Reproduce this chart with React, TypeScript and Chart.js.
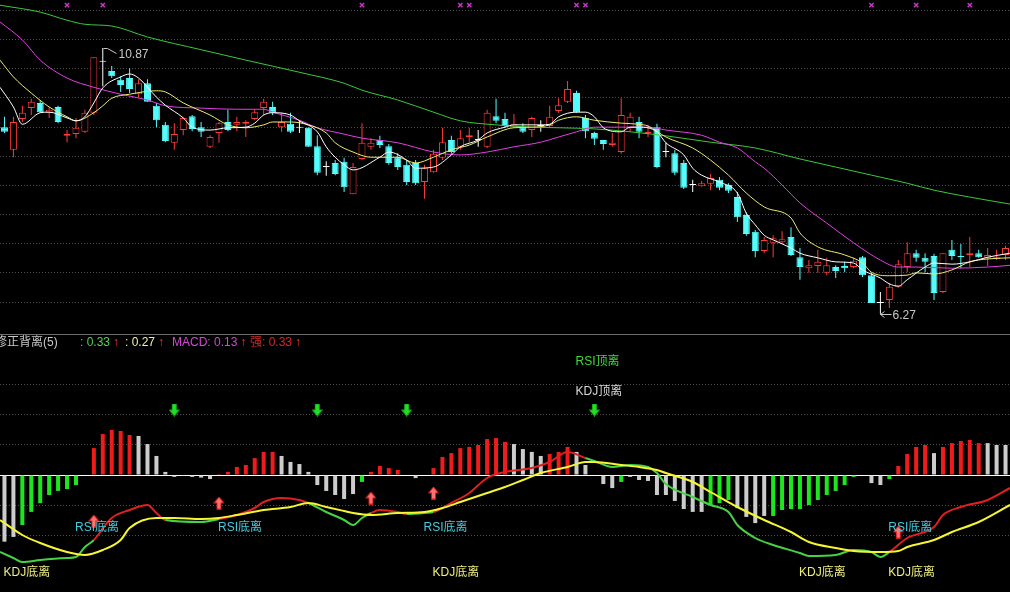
import React, { useEffect, useRef } from "react";
import { Chart, registerables } from "chart.js";

Chart.register(...registerables);

const W = 1010;
const TOP_H = 334;
const BOT_H = 258;

// ---------- price panel data ----------
const openP = [9.50, 9.11, 9.64, 9.83, 9.92, 9.75, 9.85, 9.35, 9.38, 9.42,
  9.75, 10.63, 10.47, 10.32, 10.35, 10.07, 10.26, 9.87, 9.54, 9.23,
  9.45, 9.69, 9.50, 9.16, 9.40, 9.59, 9.54, 9.56, 9.64, 9.83,
  9.85, 9.50, 9.56, 9.49, 9.49, 9.17, 8.81, 8.88, 8.90, 8.34,
  8.95, 9.16, 9.28, 9.17, 8.98, 8.85, 8.88, 8.55, 8.72, 8.97,
  9.28, 9.16, 9.33, 9.28, 9.16, 9.69, 9.64, 9.50, 9.50, 9.45,
  9.52, 9.52, 9.78, 9.94, 10.09, 9.66, 9.40, 9.28, 9.19, 9.07,
  9.49, 9.59, 9.40, 9.50, 9.07, 9.05, 8.88, 8.50, 8.48, 8.52,
  8.59, 8.50, 8.29, 7.98, 7.69, 7.36, 7.50, 7.51, 7.60, 7.25,
  7.06, 7.10, 6.98, 7.08, 7.10, 7.08, 7.25, 6.94, 6.46, 6.51,
  6.74, 7.08, 7.32, 7.24, 7.27, 6.65, 7.38, 7.27, 7.29, 7.32,
  7.24, 7.22, 7.29];
const highP = [9.68, 9.68, 9.87, 9.99, 9.97, 9.85, 9.87, 9.45, 9.66, 9.80,
  10.71, 10.87, 10.56, 10.38, 10.52, 10.33, 10.33, 9.92, 9.59, 9.57,
  9.68, 9.71, 9.59, 9.36, 9.59, 9.80, 9.68, 9.62, 9.80, 9.99,
  9.94, 9.75, 9.75, 9.62, 9.50, 9.36, 8.91, 8.93, 8.97, 8.88,
  9.57, 9.31, 9.35, 9.21, 9.05, 8.93, 8.93, 8.85, 9.11, 9.49,
  9.35, 9.45, 9.49, 9.45, 9.80, 9.99, 9.75, 9.73, 9.57, 9.68,
  9.62, 9.87, 10.00, 10.30, 10.13, 9.71, 9.42, 9.28, 9.40, 10.00,
  9.75, 9.68, 9.54, 9.56, 9.23, 9.11, 8.93, 8.59, 8.57, 8.69,
  8.64, 8.53, 8.38, 8.03, 7.72, 7.60, 7.63, 7.70, 7.77, 7.41,
  7.20, 7.38, 7.24, 7.11, 7.17, 7.24, 7.27, 6.98, 6.65, 6.80,
  7.20, 7.51, 7.38, 7.32, 7.31, 7.32, 7.55, 7.48, 7.60, 7.38,
  7.41, 7.38, 7.45];
const lowP = [9.40, 8.98, 9.59, 9.71, 9.75, 9.66, 9.57, 9.24, 9.31, 9.40,
  9.71, 10.21, 10.35, 10.11, 10.09, 10.02, 9.94, 9.50, 9.24, 9.11,
  9.36, 9.43, 9.33, 9.14, 9.23, 9.43, 9.43, 9.33, 9.62, 9.71,
  9.71, 9.42, 9.40, 9.40, 9.16, 8.67, 8.66, 8.67, 8.38, 8.34,
  8.93, 9.11, 9.14, 8.85, 8.76, 8.50, 8.50, 8.26, 8.71, 8.93,
  9.04, 9.11, 9.24, 9.16, 9.14, 9.57, 9.49, 9.49, 9.40, 9.33,
  9.42, 9.49, 9.75, 9.92, 9.75, 9.31, 9.19, 9.11, 9.16, 9.04,
  9.42, 9.31, 9.33, 8.79, 8.98, 8.67, 8.43, 8.38, 8.47, 8.41,
  8.41, 8.36, 7.86, 7.62, 7.25, 7.32, 7.25, 7.48, 7.27, 6.86,
  6.98, 6.98, 6.94, 6.89, 6.99, 7.06, 6.91, 6.46, 6.27, 6.37,
  6.72, 6.99, 7.17, 6.99, 6.51, 6.63, 7.20, 7.06, 7.08, 7.24,
  7.10, 7.20, 7.20];
const closeP = [9.42, 9.59, 9.75, 9.94, 9.76, 9.80, 9.59, 9.38, 9.49, 9.75,
  10.71, 10.63, 10.38, 10.23, 10.16, 10.26, 9.94, 9.62, 9.26, 9.38,
  9.66, 9.47, 9.42, 9.33, 9.57, 9.45, 9.59, 9.59, 9.76, 9.94,
  9.75, 9.59, 9.42, 9.49, 9.16, 8.71, 8.81, 8.69, 8.46, 8.81,
  9.23, 9.23, 9.19, 8.88, 8.81, 8.55, 8.53, 8.79, 9.04, 9.24,
  9.07, 9.31, 9.36, 9.28, 9.75, 9.61, 9.52, 9.56, 9.42, 9.66,
  9.52, 9.68, 9.88, 10.16, 9.76, 9.43, 9.30, 9.21, 9.23, 9.71,
  9.68, 9.42, 9.42, 8.81, 9.07, 8.71, 8.45, 8.50, 8.53, 8.62,
  8.45, 8.40, 7.94, 7.65, 7.36, 7.55, 7.58, 7.56, 7.29, 7.08,
  7.11, 7.17, 7.11, 7.01, 7.06, 7.19, 6.94, 6.46, 6.46, 6.74,
  7.13, 7.32, 7.24, 7.17, 6.63, 7.32, 7.27, 7.25, 7.32, 7.25,
  7.29, 7.25, 7.41];

// moving-average lines (candle index, price)
const ma5X = [-0.5, 1, 2, 4, 5, 7, 8, 9, 10, 11, 13, 14, 15, 17, 18, 20, 21, 23, 25, 27, 28, 29, 30, 32, 33, 35, 36, 37, 38, 39, 42, 43, 45, 46, 48, 50, 51, 53, 54, 56, 57, 60, 61, 62, 64, 65, 66, 67, 69, 70, 71, 73, 74, 76, 77, 78, 80, 82, 83, 84, 85, 86, 88, 89, 91, 93, 95, 96, 98, 99, 100, 101, 103, 104, 106, 108, 110, 112.5];
const ma5 = [10.19, 9.85, 9.55, 9.75, 9.76, 9.66, 9.61, 9.68, 9.92, 10.18, 10.37, 10.42, 10.35, 10.02, 9.88, 9.66, 9.50, 9.45, 9.49, 9.50, 9.57, 9.71, 9.75, 9.71, 9.61, 9.42, 9.16, 8.98, 8.85, 8.76, 8.98, 9.07, 8.93, 8.79, 8.81, 9.02, 9.16, 9.28, 9.40, 9.50, 9.54, 9.54, 9.55, 9.68, 9.76, 9.76, 9.68, 9.49, 9.42, 9.50, 9.50, 9.42, 9.23, 9.02, 8.79, 8.67, 8.55, 8.36, 8.01, 7.81, 7.63, 7.55, 7.41, 7.32, 7.24, 7.17, 7.15, 7.03, 6.89, 6.79, 6.75, 6.86, 7.08, 7.15, 7.13, 7.17, 7.25, 7.32];
const ma10X = [-0.5, 1, 3, 5, 7, 8, 10, 11, 12, 14, 17, 18, 20, 23, 25, 27, 29, 30, 32, 34, 36, 37, 39, 41, 44, 46, 48, 50, 52, 54, 57, 59, 61, 62, 64, 66, 69, 71, 72, 74, 77, 79, 81, 83, 85, 88, 89, 91, 94, 96, 97, 99, 101, 102, 104, 106, 108, 110, 112.5];
const ma10 = [10.66, 10.37, 10.09, 9.85, 9.68, 9.61, 9.75, 9.87, 10.00, 10.07, 10.13, 10.11, 9.92, 9.71, 9.54, 9.49, 9.54, 9.59, 9.59, 9.54, 9.40, 9.23, 9.07, 8.98, 8.98, 8.88, 8.98, 9.11, 9.19, 9.33, 9.49, 9.50, 9.54, 9.62, 9.68, 9.62, 9.57, 9.55, 9.52, 9.33, 9.14, 8.93, 8.67, 8.36, 8.12, 7.93, 7.67, 7.43, 7.29, 7.15, 6.99, 6.93, 6.94, 6.98, 6.96, 7.03, 7.17, 7.22, 7.24];
const ma30X = [-0.5, 2, 4, 7, 10, 13, 16, 18, 22, 26, 29, 30, 33, 35, 38, 40, 44, 48, 51, 54, 57, 60, 62, 64, 66, 69, 72, 74, 78, 80, 82, 84, 85, 87, 89, 92, 95, 98, 100, 102, 106, 110, 112.5];
const ma30 = [11.32, 11.01, 10.66, 10.35, 10.19, 10.07, 9.97, 9.87, 9.83, 9.81, 9.81, 9.76, 9.62, 9.49, 9.38, 9.31, 9.23, 9.07, 9.02, 9.07, 9.16, 9.24, 9.33, 9.42, 9.50, 9.50, 9.50, 9.45, 9.36, 9.24, 9.14, 8.90, 8.79, 8.50, 8.19, 7.84, 7.50, 7.20, 7.08, 7.08, 7.06, 7.08, 7.11];
const ma60X = [-0.5, 4, 7, 9, 12, 16, 22, 27, 33, 38, 40, 44, 48, 51, 55, 59, 62, 66, 70, 74, 79, 84, 89, 93, 97, 101, 104, 108, 112.5];
const ma60 = [11.61, 11.49, 11.35, 11.28, 11.25, 11.06, 10.84, 10.66, 10.45, 10.26, 10.14, 9.97, 9.76, 9.61, 9.54, 9.50, 9.49, 9.47, 9.42, 9.35, 9.24, 9.14, 8.95, 8.81, 8.67, 8.53, 8.41, 8.29, 8.17];

const priceGrid = [11.52, 11.02, 10.51, 10.01, 9.50, 9.00, 8.49, 7.99, 7.48, 6.98, 6.47];
const PRICE_MAX = 11.70;
const PRICE_MIN = 5.922;
const markIdx = [7, 11, 40, 51, 52, 64, 65, 97, 102, 108];
const MARK_LEVEL = 11.61;

// ---------- indicator panel data ----------
const macd = [-0.28, -0.26, -0.21, -0.155, -0.118, -0.084, -0.067, -0.059, -0.042, 0,
  0.113, 0.172, 0.189, 0.185, 0.168, 0.164, 0.130, 0.080, 0.013, -0.008,
  -0.004, -0.008, -0.011, -0.017, 0.004, 0.013, 0.034, 0.042, 0.071, 0.097,
  0.097, 0.080, 0.055, 0.046, 0.013, -0.042, -0.067, -0.084, -0.101, -0.080,
  -0.029, 0.013, 0.038, 0.029, 0.021, 0, -0.013, 0, 0.029, 0.076,
  0.092, 0.113, 0.118, 0.126, 0.151, 0.155, 0.139, 0.130, 0.109, 0.097,
  0.080, 0.088, 0.097, 0.118, 0.097, 0.042, 0, -0.038, -0.055, -0.029,
  -0.008, -0.021, -0.025, -0.084, -0.084, -0.109, -0.143, -0.155, -0.155, -0.126,
  -0.118, -0.105, -0.139, -0.176, -0.202, -0.172, -0.172, -0.147, -0.143, -0.143,
  -0.126, -0.105, -0.084, -0.067, -0.042, -0.008, 0, -0.034, -0.042, -0.017,
  0.038, 0.088, 0.118, 0.126, 0.092, 0.118, 0.134, 0.143, 0.147, 0.134,
  0.134, 0.126, 0.126];
const macdColorCode = ("ww" + "ggggggg" + "w" + "rrrrr" + "wwwwwwwww" + "rrrrrrr" + "wwwwwwwww" + "g" + "rrrr" + "www" +
  "rrrrrrrrr" + "wwww" + "rrr" + "wwwww" + "g" + "wwwwwwwww" + "ggg" + "wwww" + "gggggggggg" + "www" + "g" + "rrrr" + "w" + "rrrrr" + "www").split("");
const macdGrid = [0.382, 0.255, 0.127, 0, -0.127, -0.255];
const MACD_MAX = 0.5922;
const MACD_MIN = -0.4914;
const L_MIN = 0;
const L_MAX = 103.2;

const swingX = [-0.5, 1, 2, 4, 7, 8, 9, 10, 12, 14, 16, 17, 18, 22, 24, 26, 28, 29, 31, 33, 34, 36, 38, 39, 40, 41, 42, 44, 45, 47, 48, 50, 52, 54, 56, 59, 61, 63, 65, 66, 68, 70, 72, 73, 74, 77, 79, 81, 82, 84, 86, 89, 90, 93, 95, 97, 98, 99, 101, 104, 105, 107, 110, 112.5];
const swing = [16.0, 13.6, 12.0, 12.8, 13.6, 14.0, 18.0, 20.8, 29.6, 32.8, 34.8, 31.6, 28.8, 28.0, 29.2, 30.8, 33.6, 36.0, 37.6, 36.8, 35.6, 32.0, 28.8, 26.8, 29.6, 31.6, 32.8, 32.0, 31.2, 31.6, 32.0, 35.6, 39.6, 45.6, 48.0, 49.6, 52.0, 56.0, 53.6, 52.4, 50.0, 50.8, 50.0, 47.6, 43.2, 38.0, 34.8, 32.0, 26.8, 21.6, 18.8, 15.6, 14.4, 14.8, 16.8, 16.0, 14.0, 16.0, 21.6, 26.0, 30.8, 34.0, 36.8, 41.6];
const swingColorCode = ("ggggggg" + "rrrrr" + "gg" + "rrrrrr" + "ggggg" + "rrr" + "gg" + "rrrrrrrr" + "ggggggggggggggggggg" + "rrrrrrr").split("");
const slowX = [-0.5, 2, 4, 7, 9, 11, 13, 14, 17, 19, 22, 24, 26, 29, 32, 34, 36, 38, 39, 41, 44, 47, 49, 51, 54, 56, 58, 60, 63, 65, 66, 69, 71, 73, 74, 77, 79, 82, 85, 88, 90, 93, 95, 98, 100, 101, 104, 106, 109, 112.5];
const slow = [28.8, 22.8, 19.6, 16.0, 14.8, 16.8, 20.8, 25.6, 29.6, 29.6, 29.2, 29.6, 30.8, 32.8, 34.0, 35.6, 34.0, 32.4, 31.6, 30.8, 31.6, 32.0, 33.6, 36.0, 39.6, 42.0, 44.8, 47.6, 50.0, 52.0, 52.0, 50.8, 50.0, 48.8, 47.6, 44.0, 40.0, 34.0, 28.8, 24.0, 20.0, 17.6, 16.4, 16.0, 16.4, 18.0, 20.8, 24.0, 28.0, 34.8];

const downArrowIdx = [19, 35, 45, 66];
const DOWN_LEVEL = 72.8;
const upArrowIdx = [10, 24, 41, 48, 100];
const upArrowLevel = [28.4, 35.6, 37.6, 39.6, 24.0];

const rsiBottomIdx = [8, 24, 47, 99];
const RSI_BOTTOM_LEVEL = 25.6;
const kdjBottomIdx = [0, 48, 89, 99];
const KDJ_BOTTOM_LEVEL = 7.6;
const topDivIdx = 64;
const RSI_TOP_LEVEL = 92;
const KDJ_TOP_LEVEL = 80;

const UP = "rgb(255,60,60)";
const DOWN = "rgb(84,252,252)";
const FLAT = "#ffffff";
const FONT = "12px 'Liberation Sans', 'Noto Sans CJK SC', sans-serif";

function arrowCanvas(dir: "up" | "down", fill: string, stroke: string) {
  const c = document.createElement("canvas");
  c.width = 11;
  c.height = 13;
  const g = c.getContext("2d")!;
  g.beginPath();
  if (dir === "down") {
    g.moveTo(3.5, 0.5); g.lineTo(7.5, 0.5); g.lineTo(7.5, 6.5); g.lineTo(10.5, 6.5);
    g.lineTo(5.5, 12.5); g.lineTo(0.5, 6.5); g.lineTo(3.5, 6.5);
  } else {
    g.moveTo(5.5, 0.5); g.lineTo(10.5, 6.5); g.lineTo(7.5, 6.5); g.lineTo(7.5, 12.5);
    g.lineTo(3.5, 12.5); g.lineTo(3.5, 6.5); g.lineTo(0.5, 6.5);
  }
  g.closePath();
  g.fillStyle = fill;
  g.fill();
  g.strokeStyle = stroke;
  g.lineWidth = 1;
  g.stroke();
  return c;
}

const pts = (xs: number[], ys: number[]) => xs.map((x, i) => ({ x, y: ys[i] }));

export default function App() {
  const topRef = useRef<HTMLCanvasElement>(null);
  const botRef = useRef<HTMLCanvasElement>(null);

  useEffect(() => {
    document.body.style.margin = "0";
    document.body.style.background = "#000";
    const idx = openP.map((_, i) => i);
    const cColor = idx.map((i) => (closeP[i] > openP[i] ? UP : closeP[i] < openP[i] ? DOWN : FLAT));
    const bodyFill = idx.map((i) => (closeP[i] > openP[i] ? "#000000" : cColor[i]));

    const xScale: any = { type: "linear", min: -0.5, max: 112.5, offset: false, display: false, grid: { display: false } };
    const hiddenY = (min: number, max: number): any => ({ type: "linear", min, max, display: false, beginAtZero: false, bounds: "data" });

    const extremes = {
      id: "extremes",
      afterDatasetsDraw(chart: any) {
        const { ctx, scales } = chart;
        const x = scales.x, y = scales.y;
        const hi = Math.max(...highP), hiI = highP.indexOf(hi);
        const lo = Math.min(...lowP), loI = lowP.indexOf(lo);
        ctx.save();
        ctx.strokeStyle = "#c8c8c8";
        ctx.fillStyle = "#c8c8c8";
        ctx.lineWidth = 1;
        ctx.font = FONT;
        ctx.textBaseline = "middle";
        let px = Math.round(x.getPixelForValue(hiI)) + 0.5;
        let py = Math.round(y.getPixelForValue(hi)) + 0.5;
        ctx.beginPath();
        ctx.moveTo(px, py); ctx.lineTo(px + 4, py); ctx.lineTo(px + 13, py + 5);
        ctx.stroke();
        ctx.fillText(hi.toFixed(2), px + 15, py + 6);
        px = Math.round(x.getPixelForValue(loI)) + 0.5;
        py = Math.round(y.getPixelForValue(lo)) + 0.5;
        ctx.beginPath();
        ctx.moveTo(px, py - 2); ctx.lineTo(px, py);
        ctx.moveTo(px, py); ctx.lineTo(px + 11, py);
        ctx.moveTo(px + 4, py - 3); ctx.lineTo(px, py); ctx.lineTo(px + 4, py + 3);
        ctx.stroke();
        ctx.fillText(lo.toFixed(2), px + 12, py + 1);
        ctx.restore();
      },
    };

    const topChart = new Chart(topRef.current!, {
      type: "bar",
      data: {
        datasets: [
          { type: "bar", data: idx.map((i) => ({ x: i, y: [lowP[i], highP[i]] })) as any, backgroundColor: cColor, borderWidth: 0, barThickness: 1, grouped: false, inflateAmount: 0, order: 5 } as any,
          { type: "bar", data: idx.map((i) => ({ x: i, y: [openP[i], closeP[i]] })) as any, backgroundColor: bodyFill, borderColor: cColor, borderWidth: 1, borderSkipped: false, barThickness: 7, grouped: false, minBarLength: 1, inflateAmount: 0, order: 4 } as any,
          { type: "line", data: pts(ma60X, ma60), borderColor: "#3cc83c", borderWidth: 1, pointRadius: 0, cubicInterpolationMode: "monotone", order: 3 } as any,
          { type: "line", data: pts(ma30X, ma30), borderColor: "#e040e0", borderWidth: 1, pointRadius: 0, cubicInterpolationMode: "monotone", order: 2 } as any,
          { type: "line", data: pts(ma10X, ma10), borderColor: "#ecec70", borderWidth: 1, pointRadius: 0, cubicInterpolationMode: "monotone", order: 1 } as any,
          { type: "line", data: pts(ma5X, ma5), borderColor: "#ffffff", borderWidth: 1, pointRadius: 0, cubicInterpolationMode: "monotone", order: 0 } as any,
          { type: "line", data: markIdx.map((i) => ({ x: i, y: MARK_LEVEL })), showLine: false, pointStyle: "crossRot", pointRadius: 3, borderColor: "#c438c4", borderWidth: 1.5, order: 0 } as any,
        ],
      },
      options: {
        responsive: false,
        animation: false,
        devicePixelRatio: 1,
        events: [],
        layout: { padding: 0, autoPadding: false },
        plugins: { legend: { display: false }, tooltip: { enabled: false } },
        scales: {
          x: xScale,
          y: {
            type: "linear", min: PRICE_MIN, max: PRICE_MAX, position: "right", beginAtZero: false, bounds: "data",
            ticks: { display: false },
            grid: { color: "#505050", drawTicks: false, lineWidth: 1 },
            border: { display: false, dash: [1, 2] },
            afterBuildTicks: (s: any) => { s.ticks = priceGrid.map((v) => ({ value: v })); },
            afterFit: (s: any) => { s.width = 0; },
          } as any,
        },
      },
      plugins: [extremes],
    });

    const downImg = arrowCanvas("down", "#22e022", "#18b018");
    const upImg = arrowCanvas("up", "#ff7070", "#d81818");

    const panelDecor = {
      id: "panelDecor",
      beforeDatasetsDraw(chart: any) {
        const { ctx, scales } = chart;
        const y0 = Math.round(scales.y.getPixelForValue(0)) + 0.5;
        ctx.save();
        ctx.strokeStyle = "#ffffff";
        ctx.lineWidth = 1;
        ctx.beginPath(); ctx.moveTo(0, y0); ctx.lineTo(W, y0); ctx.stroke();
        ctx.strokeStyle = "#6e6e6e";
        ctx.beginPath(); ctx.moveTo(0, 0.5); ctx.lineTo(W, 0.5); ctx.stroke();
        ctx.restore();
      },
      afterDatasetsDraw(chart: any) {
        const { ctx, scales } = chart;
        const x = scales.x, y2 = scales.y2;
        ctx.save();
        ctx.font = FONT;
        ctx.textBaseline = "middle";
        ctx.textAlign = "left";
        const put = (list: number[], level: number, text: string, color: string) => {
          ctx.fillStyle = color;
          list.forEach((i) => ctx.fillText(text, x.getPixelForValue(i) - 1, y2.getPixelForValue(level)));
        };
        put(rsiBottomIdx, RSI_BOTTOM_LEVEL, "RSI底离", "#48cadc");
        put(kdjBottomIdx, KDJ_BOTTOM_LEVEL, "KDJ底离", "#eeee80");
        put([topDivIdx], RSI_TOP_LEVEL, "RSI顶离", "#3cdc3c");
        put([topDivIdx], KDJ_TOP_LEVEL, "KDJ顶离", "#d8d8d8");
        // header line
        const hy = 9;
        let cx = -5;
        const seg = (t: string, c: string) => { ctx.fillStyle = c; ctx.fillText(t, cx, hy); cx += ctx.measureText(t).width; };
        seg("修正背离(5)", "#c8c8c8");
        cx = 80; seg(": 0.33", "#5ccc5c"); cx += 3; seg("↑", "#ff3c3c");
        cx = 125; seg(": 0.27", "#f0f0a0"); cx += 3; seg("↑", "#ff3c3c");
        cx = 172; seg("MACD: 0.13", "#d048d0"); cx += 3; seg("↑", "#ff3c3c");
        cx = 250; seg("强: 0.33", "#d42828"); cx += 3; seg("↑", "#ff3c3c");
        ctx.restore();
      },
    };

    const macdColor = macdColorCode.map((c) => (c === "r" ? "#f01c1c" : c === "g" ? "#1ee61e" : "#cccccc"));

    const botChart = new Chart(botRef.current!, {
      type: "bar",
      data: {
        datasets: [
          { type: "bar", data: idx.map((i) => ({ x: i, y: macd[i] })), backgroundColor: macdColor, borderWidth: 0, barThickness: 4, grouped: false, inflateAmount: 0, order: 5 } as any,
          {
            type: "line", yAxisID: "y2", data: pts(swingX, swing), borderWidth: 2, pointRadius: 0, cubicInterpolationMode: "monotone", borderColor: "#e02020",
            segment: { borderColor: (c: any) => (swingColorCode[c.p0DataIndex] === "r" ? "#e02020" : "#46d246") }, order: 2,
          } as any,
          { type: "line", yAxisID: "y2", data: pts(slowX, slow), borderColor: "#f5f532", borderWidth: 2, pointRadius: 0, cubicInterpolationMode: "monotone", order: 1 } as any,
          { type: "line", yAxisID: "y2", data: downArrowIdx.map((i) => ({ x: i, y: DOWN_LEVEL })), showLine: false, pointStyle: downImg, pointRadius: 5, order: 0 } as any,
          { type: "line", yAxisID: "y2", data: upArrowIdx.map((i, k) => ({ x: i, y: upArrowLevel[k] })), showLine: false, pointStyle: upImg, pointRadius: 5, order: 0 } as any,
        ],
      },
      options: {
        responsive: false,
        animation: false,
        devicePixelRatio: 1,
        events: [],
        layout: { padding: 0, autoPadding: false },
        plugins: { legend: { display: false }, tooltip: { enabled: false } },
        scales: {
          x: xScale,
          y: {
            type: "linear", min: MACD_MIN, max: MACD_MAX, position: "right", beginAtZero: false, bounds: "data",
            ticks: { display: false },
            grid: { color: (c: any) => (c.tick && c.tick.value === 0 ? "rgba(0,0,0,0)" : "#505050"), drawTicks: false, lineWidth: 1 },
            border: { display: false, dash: [1, 2] },
            afterBuildTicks: (s: any) => { s.ticks = macdGrid.map((v) => ({ value: v })); },
            afterFit: (s: any) => { s.width = 0; },
          } as any,
          y2: hiddenY(L_MIN, L_MAX),
        },
      },
      plugins: [panelDecor],
    });

    return () => {
      topChart.destroy();
      botChart.destroy();
    };
  }, []);

  return (
    <div style={{ position: "fixed", left: 0, top: 0, width: W, height: TOP_H + BOT_H, background: "#000", overflow: "hidden" }}>
      <canvas ref={topRef} width={W} height={TOP_H} style={{ position: "absolute", left: 0, top: 0, width: W, height: TOP_H }} />
      <canvas ref={botRef} width={W} height={BOT_H} style={{ position: "absolute", left: 0, top: TOP_H, width: W, height: BOT_H }} />
    </div>
  );
}
